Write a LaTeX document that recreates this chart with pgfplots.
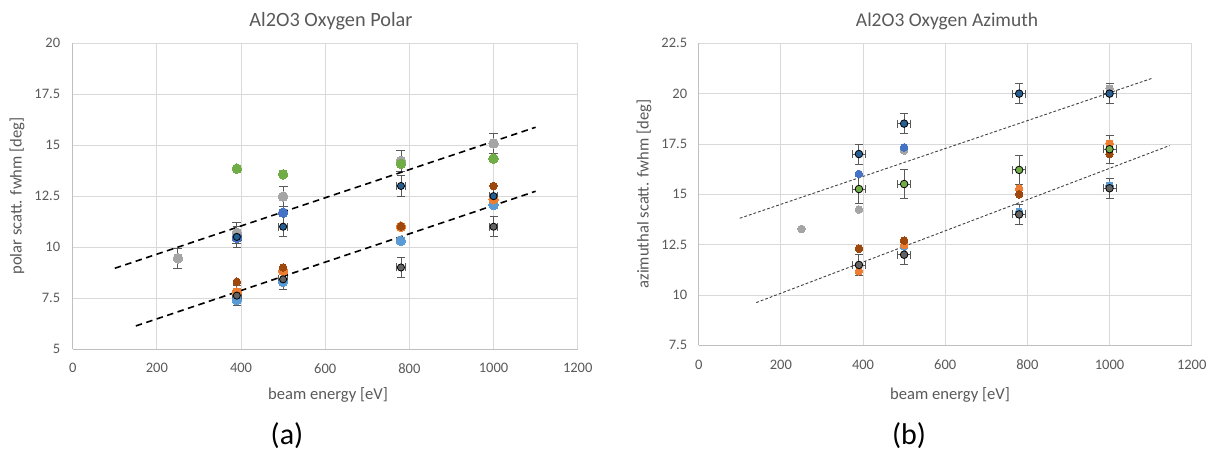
\documentclass[border=0pt]{standalone}
\usepackage{fontspec}
\setmainfont{Carlito}
\usepackage{pgfplots}
\pgfplotsset{compat=1.18}
\usepackage{pgfplotstable}

\definecolor{xblue}{HTML}{4472C4}
\definecolor{xorange}{HTML}{ED7D31}
\definecolor{xgray}{HTML}{A5A5A5}
\definecolor{xlblue}{HTML}{5B9BD5}
\definecolor{xgreen}{HTML}{70AD47}
\definecolor{xdblue}{HTML}{255E91}
\definecolor{xbrown}{HTML}{9E480E}
\definecolor{xdgray}{HTML}{636363}
\definecolor{txt}{HTML}{595959}
\definecolor{gridc}{HTML}{D9D9D9}
\definecolor{axc}{HTML}{BFBFBF}

% ---------- (a) polar ----------
\pgfplotstableread{
x y ey
250 9.45 0.5
390 10.7 0.5
500 12.48 0.5
780 14.23 0.5
1000 15.09 0.5
}\LgrayT
\pgfplotstableread{
x y
390 13.85
500 13.57
780 14.08
1000 14.34
}\LgreenT
\pgfplotstableread{
x y
390 10.45
500 11.69
}\LblueT
\pgfplotstableread{
x y
390 7.40
500 8.30
780 10.30
1000 12.07
}\LlblueT
\pgfplotstableread{
x y
390 7.78
500 8.83
780 11.00
1000 12.35
}\LorangeT
\pgfplotstableread{
x y
390 8.30
500 9.00
780 11.02
1000 13.00
}\LbrownT
\pgfplotstableread{
x y ex ey
390 7.62 10 0.5
500 8.42 10 0.5
780 9.00 10 0.5
1000 11.00 10 0.5
}\LdgrayT
\pgfplotstableread{
x y ex ey
390 10.50 10 0.5
500 11.00 10 0.5
780 13.00 10 0.5
1000 12.50 10 0.5
}\LdblueT

% ---------- (b) azimuth ----------
\pgfplotstableread{
x y
250 13.28
390 14.24
500 17.17
1000 20.26
}\RgrayT
\pgfplotstableread{
x y
390 16.01
500 17.33
}\RblueT
\pgfplotstableread{
x y
500 12.40
780 14.14
1000 15.43
}\RlblueT
\pgfplotstableread{
x y
390 11.18
500 12.48
780 15.28
1000 17.53
}\RorangeT
\pgfplotstableread{
x y
390 12.30
500 12.70
780 15.00
1000 17.00
}\RbrownT
\pgfplotstableread{
x y ex ey
390 11.49 16 0.5
500 12.00 16 0.5
780 14.00 16 0.5
1000 15.30 16 0.5
}\RdgrayT
\pgfplotstableread{
x y ex ey
390 15.26 16 0.7
500 15.51 16 0.7
780 16.21 16 0.7
1000 17.24 16 0.7
}\RgreenT
\pgfplotstableread{
x y ex ey
390 17.00 16 0.5
500 18.51 16 0.5
780 20.00 16 0.5
1000 20.00 16 0.5
}\RdblueT

\pgfplotsset{
  excel/.style={
    scale only axis,
    xmin=0, xmax=1200, xtick={0,200,...,1200},
    grid=major, major grid style={draw=gridc, line width=0.9pt},
    axis x line*=bottom, axis y line*=left,
    axis line style={draw=axc, line width=0.9pt, -},
    tick style={draw=none},
    tick label style={font=\fontsize{14.5}{17}\selectfont, text=txt},
    xticklabel style={yshift=-11pt},
    /pgf/number format/1000 sep={},
    /pgf/number format/assume math mode=true,
  },
  dot/.style 2 args={only marks, mark=*, mark size=#2,
    mark options={draw=#1, fill=#1, line width=0pt}},
  odot/.style 2 args={only marks, mark=*, mark size=#2,
    mark options={draw=black, fill=#1, line width=0.8pt},
    error bars/.cd, x dir=both, x explicit, y dir=both, y explicit,
    error bar style={draw=txt, line width=0.9pt},
    error mark options={draw=txt, line width=0.9pt, mark size=4pt, rotate=90}},
  ydot/.style 2 args={only marks, mark=*, mark size=#2,
    mark options={draw=#1, fill=#1, line width=0pt},
    error bars/.cd, y dir=both, y explicit,
    error bar style={draw=txt, line width=0.9pt},
    error mark options={draw=txt, line width=0.9pt, mark size=4.5pt, rotate=90}},
}

\begin{document}
\begin{tikzpicture}
\useasboundingbox (0,0) rectangle (1222pt,457pt);

% ===== (a) =====
\begin{axis}[excel, at={(72.7pt,108pt)}, anchor=south west,
  width=505pt, height=305.7pt,
  ymin=5, ymax=20, ytick={5,7.5,...,20},
  yticklabel style={xshift=-9pt}]
\addplot[ydot={xgray}{4.8pt}] table[x=x,y=y,y error=ey] {\LgrayT};
\addplot[dot={xblue}{4.8pt}] table[x=x,y=y] {\LblueT};
\addplot[dot={xgreen}{4.8pt}] table[x=x,y=y] {\LgreenT};
\addplot[dot={xlblue}{4.8pt}] table[x=x,y=y] {\LlblueT};
\addplot[dot={xorange}{4.8pt}] table[x=x,y=y] {\LorangeT};
\addplot[dot={xbrown}{3.8pt}] table[x=x,y=y] {\LbrownT};
\addplot[odot={xdgray}{3.6pt}] table[x=x,y=y,x error=ex,y error=ey] {\LdgrayT};
\addplot[odot={xdblue}{3.6pt}] table[x=x,y=y,x error=ex,y error=ey] {\LdblueT};
\addplot[black, line width=1.6pt, dash pattern=on 6.5pt off 4.5pt, no marks] coordinates {(100,8.96) (1100,15.88)};
\addplot[black, line width=1.6pt, dash pattern=on 6.5pt off 4.5pt, no marks] coordinates {(150,6.13) (1100,12.74)};
\end{axis}

% ===== (b) =====
\begin{axis}[excel, at={(698.7pt,111.7pt)}, anchor=south west,
  width=493pt, height=302pt,
  ymin=7.5, ymax=22.5, ytick={7.5,10,...,22.5},
  yticklabel style={xshift=-8pt}]
\addplot[dot={xgray}{3.8pt}] table[x=x,y=y] {\RgrayT};
\addplot[dot={xblue}{3.8pt}] table[x=x,y=y] {\RblueT};
\addplot[dot={xlblue}{3.8pt}] table[x=x,y=y] {\RlblueT};
\addplot[dot={xorange}{3.8pt}] table[x=x,y=y] {\RorangeT};
\addplot[dot={xbrown}{3.8pt}] table[x=x,y=y] {\RbrownT};
\addplot[odot={xdgray}{3.8pt}] table[x=x,y=y,x error=ex,y error=ey] {\RdgrayT};
\addplot[odot={xgreen}{3.8pt}] table[x=x,y=y,x error=ex,y error=ey] {\RgreenT};
\addplot[odot={xdblue}{3.8pt}] table[x=x,y=y,x error=ex,y error=ey] {\RdblueT};
\addplot[black!75, line width=0.9pt, dash pattern=on 2.8pt off 2pt, no marks] coordinates {(100,13.81) (1102,20.75)};
\addplot[black!75, line width=0.9pt, dash pattern=on 2.8pt off 2pt, no marks] coordinates {(140,9.62) (1146,17.42)};
\end{axis}

% ===== texts =====
\node[anchor=base, font=\fontsize{20.3}{24}\selectfont, text=txt] at (331pt,430.3pt) {Al2O3 Oxygen Polar};
\node[anchor=base, font=\fontsize{19.5}{24}\selectfont, text=txt] at (947pt,430.3pt) {Al2O3 Oxygen Azimuth};
\node[anchor=base, font=\fontsize{16.6}{20}\selectfont, text=txt] at (328pt,57pt) {beam energy [eV]};
\node[anchor=base, font=\fontsize{16.6}{20}\selectfont, text=txt] at (950pt,57pt) {beam energy [eV]};
\node[anchor=base, rotate=90, font=\fontsize{16.6}{20}\selectfont, text=txt] at (21.7pt,261pt) {polar scatt. fwhm [deg]};
\node[anchor=base, rotate=90, font=\fontsize{16.6}{20}\selectfont, text=txt] at (648.7pt,263pt) {azimuthal scatt. fwhm [deg]};
\node[font=\fontsize{30}{36}\selectfont] at (287pt,21pt) {(a)};
\node[font=\fontsize{30}{36}\selectfont] at (909pt,21pt) {(b)};
\end{tikzpicture}
\end{document}
